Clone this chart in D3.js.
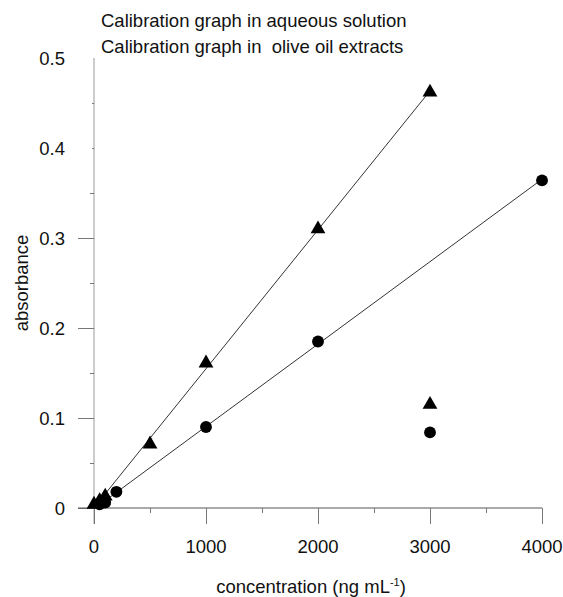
<!DOCTYPE html>
<html>
<head>
<meta charset="utf-8">
<script src="https://cdn.jsdelivr.net/npm/d3@7"></script>
<style>
  html, body { margin: 0; padding: 0; background: #fff; }
  svg { display: block; }
  text { font-family: "Liberation Sans", Arial, sans-serif; fill: #111; white-space: pre; }
</style>
</head>
<body>
<svg id="chart" width="563" height="597"></svg>
<script>
// Calibration data: concentration (ng/mL) vs absorbance
const aqueousConc = [0, 50, 100, 500, 1000, 2000, 3000];
const aqueousAbs  = [0.004, 0.008, 0.013, 0.071, 0.161, 0.310, 0.462];
const oilConc     = [50, 100, 200, 1000, 2000, 4000];
const oilAbs      = [0.004, 0.006, 0.018, 0.090, 0.185, 0.364];

const legendLabels = ["Calibration graph in aqueous solution", "Calibration graph in  olive oil extracts"];
// legend symbols sit inside the plot at these data coordinates
const legendSymbolConc = [3000, 3000];
const legendSymbolAbs  = [0.115, 0.084];

const xTicks = [0, 1000, 2000, 3000, 4000];
const xMinorTicks = [500, 1500, 2500, 3500];
const yTicks = [0, 0.1, 0.2, 0.3, 0.4, 0.5];
const yTickLabels = ["0", "0.1", "0.2", "0.3", "0.4", "0.5"];
const yMinorTicks = [0.05, 0.15, 0.25, 0.35, 0.45];

const FONT = 18.5;
const svg = d3.select("#chart");
const x = d3.scaleLinear().domain([0, 4000]).range([94, 542]);
const y = d3.scaleLinear().domain([0, 0.5]).range([508, 58]);

const axisColor = "#777";

// y axis
const yAxis = svg.append("g").attr("transform", `translate(${x(0)},0)`)
  .call(d3.axisLeft(y).tickValues(yTicks).tickSize(16).tickFormat(""));
yAxis.select(".domain").attr("stroke", "#999").attr("d", `M0,${y(0.5)}V${y(0) + 16}`);
yAxis.selectAll(".tick line").attr("stroke", axisColor)
  .attr("x2", d => d >= 0.4 ? (d > 0.45 ? 0 : -2) : -16);
svg.append("g").attr("transform", `translate(${x(0)},0)`)
  .call(d3.axisLeft(y).tickValues(yMinorTicks).tickSize(4).tickFormat(""))
  .call(g => g.select(".domain").remove())
  .selectAll(".tick line").attr("stroke", axisColor)
  .attr("x2", d => d > 0.4 ? -2 : -4);

svg.append("g").selectAll("text").data(yTicks).join("text")
  .attr("x", 65).attr("y", d => y(d) + 7)
  .attr("text-anchor", "end").attr("font-size", FONT)
  .text((d, i) => yTickLabels[i]);

// x axis
const xAxis = svg.append("g").attr("transform", `translate(0,${y(0)})`)
  .call(d3.axisBottom(x).tickValues(xTicks).tickSize(16).tickFormat(""));
xAxis.select(".domain").attr("stroke", "#555").attr("d", `M${x(0) - 16},0H${x(4000)}`);
xAxis.selectAll(".tick line").attr("stroke", axisColor);
svg.append("g").attr("transform", `translate(0,${y(0)})`)
  .call(d3.axisBottom(x).tickValues(xMinorTicks).tickSize(5).tickFormat(""))
  .call(g => g.select(".domain").remove())
  .selectAll(".tick line").attr("stroke", axisColor);

svg.append("g").selectAll("text").data(xTicks).join("text")
  .attr("x", d => x(d)).attr("y", 553)
  .attr("text-anchor", "middle").attr("font-size", FONT)
  .text(d => d);

// axis titles
svg.append("text")
  .attr("transform", `translate(28,283) rotate(-90)`)
  .attr("text-anchor", "middle").attr("font-size", FONT)
  .text("absorbance");

const xTitle = svg.append("text")
  .attr("x", 311).attr("y", 593)
  .attr("text-anchor", "middle").attr("font-size", FONT);
xTitle.append("tspan").text("concentration (ng mL");
xTitle.append("tspan").attr("font-size", 11).attr("dy", -7).text("-1");
xTitle.append("tspan").attr("dy", 7).text(")");

// legend text
svg.append("g").selectAll("text").data(legendLabels).join("text")
  .attr("x", 101).attr("y", (d, i) => 27 + i * 26)
  .attr("font-size", FONT)
  .text(d => d);

// least-squares calibration lines
function fit(xs, ys) {
  const n = xs.length, mx = d3.mean(xs), my = d3.mean(ys);
  let sxy = 0, sxx = 0;
  for (let i = 0; i < n; i++) { sxy += (xs[i] - mx) * (ys[i] - my); sxx += (xs[i] - mx) ** 2; }
  const b = sxy / sxx;
  return { a: my - b * mx, b };
}
function drawFit(xs, ys) {
  const f = fit(xs, ys);
  const x0 = d3.min(xs), x1 = d3.max(xs);
  svg.append("line")
    .attr("x1", x(x0)).attr("y1", y(f.a + f.b * x0))
    .attr("x2", x(x1)).attr("y2", y(f.a + f.b * x1))
    .attr("stroke", "#333").attr("stroke-width", 1);
}
drawFit(aqueousConc, aqueousAbs);
drawFit(oilConc, oilAbs);

const tri = d3.symbol().type(d3.symbolTriangle).size(95);
const circ = d3.symbol().type(d3.symbolCircle).size(110);

svg.append("g").selectAll("path").data(aqueousConc.map((c, i) => [c, aqueousAbs[i]])).join("path")
  .attr("d", tri).attr("fill", "#000")
  .attr("transform", d => `translate(${x(d[0])},${y(d[1])})`);
svg.append("g").selectAll("path").data(oilConc.map((c, i) => [c, oilAbs[i]])).join("path")
  .attr("d", circ).attr("fill", "#000")
  .attr("transform", d => `translate(${x(d[0])},${y(d[1])})`);

// legend symbols
svg.append("path").attr("d", tri).attr("fill", "#000")
  .attr("transform", `translate(${x(legendSymbolConc[0])},${y(legendSymbolAbs[0])})`);
svg.append("path").attr("d", circ).attr("fill", "#000")
  .attr("transform", `translate(${x(legendSymbolConc[1])},${y(legendSymbolAbs[1])})`);
</script>
</body>
</html>
